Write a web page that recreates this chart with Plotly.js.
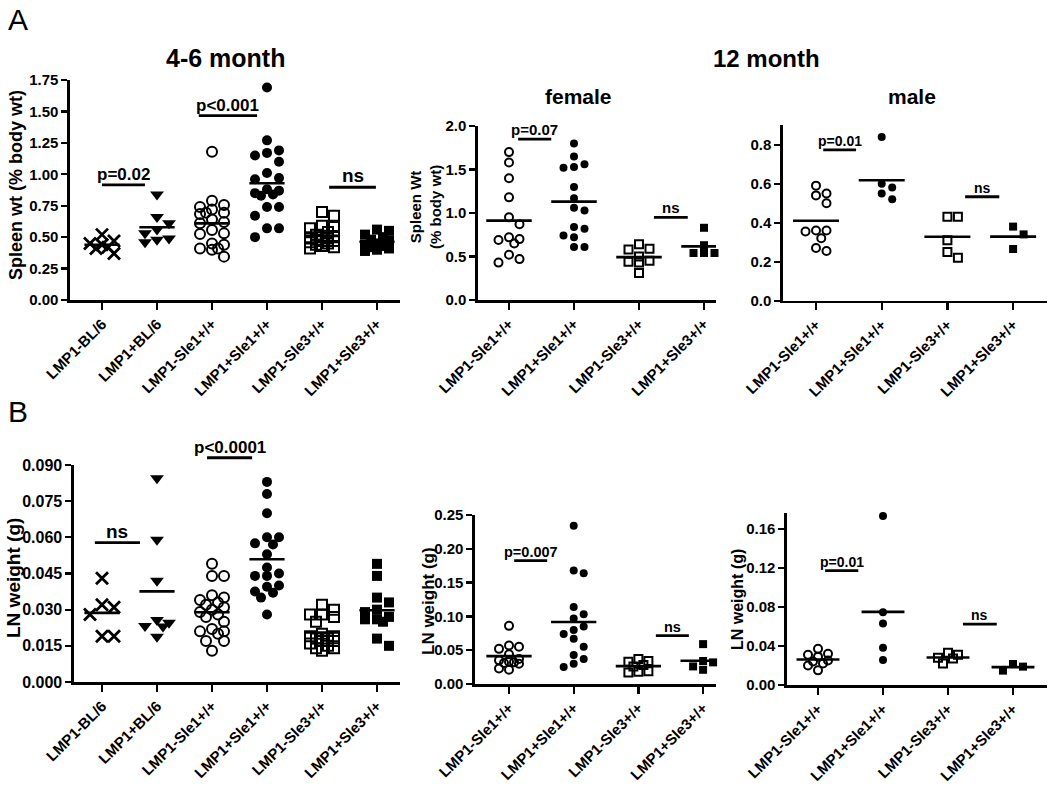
<!DOCTYPE html>
<html>
<head>
<meta charset="utf-8">
<script src="https://cdn.plot.ly/plotly-3.0.1.min.js"></script>
<style>html,body{margin:0;padding:0;background:#fff;}#chart{width:1050px;height:789px;}</style>
</head>
<body>
<div id="chart"></div>
<script>
// ---------- categories ----------
const catsAll = ["LMP1-BL/6","LMP1+BL/6","LMP1-Sle1+/+","LMP1+Sle1+/+","LMP1-Sle3+/+","LMP1+Sle3+/+"];
const cats4 = ["LMP1-Sle1+/+","LMP1+Sle1+/+","LMP1-Sle3+/+","LMP1+Sle3+/+"];

// ---------- A: spleen wt (% body wt), 4-6 month ----------
const spl46_BL6neg  = [0.52,0.47,0.45,0.44,0.42,0.41,0.37];
const spl46_BL6pos  = [0.84,0.66,0.61,0.56,0.53,0.49,0.48,0.46];
const spl46_Sle1neg = [1.18,0.79,0.755,0.74,0.72,0.695,0.685,0.695,0.62,0.64,0.61,0.557,0.525,0.53,0.45,0.41,0.44,0.40,0.41,0.345];
const spl46_Sle1pos = [1.69,1.27,1.19,1.17,1.15,1.10,1.01,0.97,0.96,0.88,0.87,0.85,0.84,0.83,0.74,0.74,0.67,0.57,0.57,0.50];
const spl46_Sle3neg = [0.70,0.67,0.59,0.58,0.57,0.54,0.52,0.51,0.50,0.50,0.49,0.48,0.47,0.47,0.46,0.45,0.44,0.43,0.42,0.41];
const spl46_Sle3pos = [0.56,0.55,0.52,0.50,0.48,0.47,0.45,0.44,0.43,0.42,0.41,0.40,0.39];

// ---------- A: spleen wt, 12 month female ----------
const splF_Sle1neg = [1.70,1.58,1.40,1.18,0.95,0.87,0.72,0.69,0.70,0.65,0.52,0.47,0.43];
const splF_Sle1pos = [1.80,1.65,1.56,1.52,1.53,1.30,1.17,1.03,1.06,0.82,0.84,0.72,0.74,0.61,0.61];
const splF_Sle3neg = [0.64,0.59,0.58,0.50,0.45,0.44,0.43,0.31];
const splF_Sle3pos = [0.83,0.63,0.54,0.54,0.54];

// ---------- A: spleen wt, 12 month male ----------
const splM_Sle1neg = [0.59,0.55,0.50,0.54,0.36,0.355,0.36,0.32,0.27,0.255];
const splM_Sle1pos = [0.84,0.60,0.58,0.55,0.52];
const splM_Sle3neg = [0.43,0.43,0.31,0.25,0.22];
const splM_Sle3pos = [0.38,0.34,0.265];

// ---------- B: LN weight (g), 4-6 month ----------
const ln46_BL6neg  = [0.043,0.031,0.032,0.028,0.019,0.019];
const ln46_BL6pos  = [0.0845,0.059,0.042,0.023,0.0257,0.0246,0.0232,0.0188];
const ln46_Sle1neg = [0.049,0.044,0.044,0.036,0.035,0.034,0.033,0.032,0.031,0.030,0.029,0.028,0.027,0.025,0.022,0.021,0.021,0.020,0.017,0.017,0.013];
const ln46_Sle1pos = [0.083,0.078,0.070,0.0575,0.060,0.060,0.057,0.053,0.045,0.0475,0.044,0.044,0.040,0.0395,0.0375,0.037,0.035,0.028];
const ln46_Sle3neg = [0.032,0.030,0.028,0.028,0.027,0.025,0.020,0.019,0.019,0.018,0.018,0.017,0.017,0.016,0.015,0.014,0.014,0.013];
const ln46_Sle3pos = [0.049,0.044,0.035,0.033,0.030,0.029,0.027,0.026,0.026,0.025,0.018,0.015];

// ---------- B: LN weight, 12 month female ----------
const lnF_Sle1neg = [0.086,0.057,0.052,0.055,0.044,0.037,0.035,0.033,0.032,0.031,0.030,0.023,0.021];
const lnF_Sle1pos = [0.234,0.168,0.164,0.114,0.103,0.097,0.080,0.085,0.074,0.067,0.055,0.043,0.037,0.030,0.025];
const lnF_Sle3neg = [0.037,0.034,0.033,0.028,0.026,0.019,0.017,0.018];
const lnF_Sle3pos = [0.059,0.032,0.034,0.021,0.026];

// ---------- B: LN weight, 12 month male ----------
const lnM_Sle1neg = [0.037,0.032,0.031,0.029,0.025,0.024,0.022,0.020,0.015];
const lnM_Sle1pos = [0.173,0.0745,0.063,0.038,0.0256];
const lnM_Sle3neg = [0.033,0.031,0.028,0.027,0.022];
const lnM_Sle3pos = [0.0215,0.0147,0.0188];

// ---------- significance bars (label, bar start/end in category units, level) ----------
const sigA46 = {text:["p=0.02","p&lt;0.001","ns"], from:[0.0,1.76,4.13], to:[0.78,2.82,4.98], level:[0.915,1.466,0.897]};
const sigAF  = {text:["p=0.07","ns"], from:[0.14,2.23], to:[0.65,2.75], level:[1.85,0.95]};
const sigAM  = {text:["p=0.01","ns"], from:[0.11,2.27], to:[0.61,2.79], level:[0.773,0.533]};
const sigB46 = {text:["ns","p&lt;0.0001"], from:[-0.13,1.91], to:[0.69,2.73], level:[0.0578,0.093]};
const sigBF  = {text:["p=0.007","ns"], from:[0.08,2.27], to:[0.59,2.78], level:[0.1824,0.0715]};
const sigBM  = {text:["p=0.01","ns"], from:[0.11,2.23], to:[0.62,2.75], level:[0.117,0.0623]};

// ---------- styling ----------
const FONT = 'Arial, "Liberation Sans", sans-serif';
const W = 1050, H = 789;
const sym6 = ['x-thin-open','triangle-down','circle-open','circle','square-open','square'];
const sym4 = ['circle-open','circle','square-open','square'];

const panels = [
  {id:'',  groups:[spl46_BL6neg,spl46_BL6pos,spl46_Sle1neg,spl46_Sle1pos,spl46_Sle3neg,spl46_Sle3pos], cats:catsAll, syms:sym6,
   px:[70,400], py:[80,300], x0:102, xs:55, yr:[0,1.75], dtick:0.25, fmt:'.2f', hw:0.32, size:10, diam:12, tf:15, sf:17, sig:sigA46},
  {id:'2', groups:[splF_Sle1neg,splF_Sle1pos,splF_Sle3neg,splF_Sle3pos], cats:cats4, syms:sym4,
   px:[478,716], py:[126,300], x0:509, xs:65, yr:[0,2.0], dtick:0.5, fmt:'.1f', hw:0.35, size:8, diam:10.5, tf:15, sf:15, sig:sigAF},
  {id:'3', groups:[splM_Sle1neg,splM_Sle1pos,splM_Sle3neg,splM_Sle3pos], cats:cats4, syms:sym4,
   px:[783,1047], py:[125.2,300.7], x0:816, xs:65.7, yr:[0,0.9], dtick:0.2, fmt:'.1f', hw:0.35, size:8, diam:10.5, tf:15, sf:14, sig:sigAM},
  {id:'4', groups:[ln46_BL6neg,ln46_BL6pos,ln46_Sle1neg,ln46_Sle1pos,ln46_Sle3neg,ln46_Sle3pos], cats:catsAll, syms:sym6,
   px:[74,400], py:[465,682], x0:102, xs:55, yr:[0,0.09], dtick:0.015, fmt:'.3f', hw:0.32, size:10, diam:12, tf:16, sf:17, sig:sigB46},
  {id:'5', groups:[lnF_Sle1neg,lnF_Sle1pos,lnF_Sle3neg,lnF_Sle3pos], cats:cats4, syms:sym4,
   px:[475,716], py:[515,684], x0:509, xs:64.7, yr:[0,0.25], dtick:0.05, fmt:'.2f', hw:0.35, size:8, diam:10, tf:15, sf:14.5, sig:sigBF},
  {id:'6', groups:[lnM_Sle1neg,lnM_Sle1pos,lnM_Sle3neg,lnM_Sle3pos], cats:cats4, syms:sym4,
   px:[787,1047], py:[513,685], x0:818, xs:65, yr:[0,0.176], dtick:0.04, fmt:'.2f', hw:0.33, size:8, diam:10, tf:15, sf:14, sig:sigBM}
];

// compact column-scatter layout computed from the values (GraphPad-like)
function swarm(values, pxPerY, d) {
  const order = values.map((v,i)=>i).sort((a,b)=>values[b]-values[a]);
  const placed = [], off = new Array(values.length);
  const cands = [0, d, -d, d/2, -d/2];
  for (const i of order) {
    const yp = values[i]*pxPerY;
    let best = 0, bestDist = -1, chosen = null;
    for (const c of cands) {
      const md = placed.reduce((m,p)=>Math.min(m, Math.hypot(p.x-c, p.y-yp)), Infinity);
      if (md >= d*0.85) { chosen = c; break; }
      if (md > bestDist) { bestDist = md; best = c; }
    }
    if (chosen === null) chosen = best;
    placed.push({x:chosen, y:yp});
    off[i] = chosen;
  }
  return off;
}
const mean = a => a.reduce((s,v)=>s+v,0)/a.length;

const traces = [], shapes = [], annotations = [];
const layout = {
  width: W, height: H, margin:{l:0,r:0,t:0,b:0},
  paper_bgcolor:'#fff', plot_bgcolor:'#fff', showlegend:false,
  font:{family:FONT, color:'#000'}
};

panels.forEach(p => {
  const xr = [(p.px[0]-p.x0)/p.xs, (p.px[1]-p.x0)/p.xs];
  const pxPerY = (p.py[1]-p.py[0])/(p.yr[1]-p.yr[0]);
  const xa = 'x'+p.id, ya = 'y'+p.id;
  layout['xaxis'+p.id] = {
    domain:[p.px[0]/W, p.px[1]/W], range:xr, anchor:ya,
    tickmode:'array', tickvals:p.cats.map((c,i)=>i), ticktext:p.cats, tickangle:-45,
    ticks:'outside', ticklen:7, tickwidth:2.2, tickcolor:'#000',
    showline:true, linewidth:2.6, linecolor:'#000', showgrid:false, zeroline:false, fixedrange:true,
    tickfont:{family:FONT, size:15, color:'#000', weight:'bold'}
  };
  layout['yaxis'+p.id] = {
    domain:[1-p.py[1]/H, 1-p.py[0]/H], range:p.yr, anchor:xa,
    tick0:0, dtick:p.dtick, tickformat:p.fmt,
    ticks:'outside', ticklen:6, tickwidth:2.2, tickcolor:'#000',
    showline:true, linewidth:2.6, linecolor:'#000', showgrid:false, zeroline:false, fixedrange:true,
    tickfont:{family:FONT, size:p.tf, color:'#000', weight:'bold'}
  };
  p.groups.forEach((vals, gi) => {
    const off = swarm(vals, pxPerY, p.diam);
    const sym = p.syms[gi];
    const isOpen = sym.indexOf('open') >= 0;
    const lw = sym.startsWith('x-thin') ? 2.8 : (isOpen ? 2 : 0);
    traces.push({
      type:'scatter', mode:'markers', xaxis:xa, yaxis:ya,
      x: vals.map((v,i)=> gi + off[i]/p.xs), y: vals,
      marker:{symbol:sym, size: sym==='triangle-down' ? p.size+2 : (sym.startsWith('x-thin') ? p.size+2 : p.size),
              color:'#000', line:{color:'#000', width:lw}},
      cliponaxis:false, hoverinfo:'skip', showlegend:false
    });
    const m = mean(vals);
    shapes.push({type:'line', xref:xa, yref:ya, x0:gi-p.hw, x1:gi+p.hw, y0:m, y1:m, line:{color:'#000', width:2.6}});
  });
  const s = p.sig;
  const fx = v => (v - xr[0])/(xr[1]-xr[0]);
  const fy = v => (v - p.yr[0])/(p.yr[1]-p.yr[0]);
  s.text.forEach((t, k) => {
    shapes.push({type:'line', xref:xa+' domain', yref:ya+' domain',
      x0:fx(s.from[k]), x1:fx(s.to[k]), y0:fy(s.level[k]), y1:fy(s.level[k]), line:{color:'#000', width:2.8}});
    annotations.push({xref:xa+' domain', yref:ya+' domain', x:fx((s.from[k]+s.to[k])/2), y:fy(s.level[k]),
      xanchor:'center', yanchor:'bottom', yshift:-1,
      text:t, showarrow:false, font:{family:FONT, size:(t==='ns' && p.sf>16) ? p.sf+2 : p.sf, color:'#000', weight:'bold'}});
  });
});

// titles & panel letters
function paperText(text, xpx, ypx, size, weight, angle) {
  annotations.push({xref:'paper', yref:'paper', x:xpx/W, y:1-ypx/H, xanchor:'center', yanchor:'middle',
    text:text, showarrow:false, textangle:angle||0, font:{family:FONT, size:size, color:'#000', weight:weight||'normal'}});
}
paperText('A', 18, 20, 30, 'normal');
paperText('B', 18, 412, 30, 'normal');
paperText('4-6 month', 225, 58, 25, 'bold');
paperText('12 month', 766, 58, 24, 'bold');
paperText('female', 578, 97, 21, 'bold');
paperText('male', 912, 97, 21, 'bold');
paperText('Spleen wt (% body wt)', 16, 185, 18, 'bold', -90);
paperText('Spleen Wt<br>(% body wt)', 425, 207, 15, 'bold', -90);
paperText('LN weight (g)', 13, 578, 19, 'bold', -90);
paperText('LN weight (g)', 428, 601, 17, 'bold', -90);
paperText('LN weight (g)', 737, 600, 16, 'bold', -90);

layout.shapes = shapes;
layout.annotations = annotations;
Plotly.newPlot('chart', traces, layout, {staticPlot:true, displayModeBar:false});
</script>
</body>
</html>
